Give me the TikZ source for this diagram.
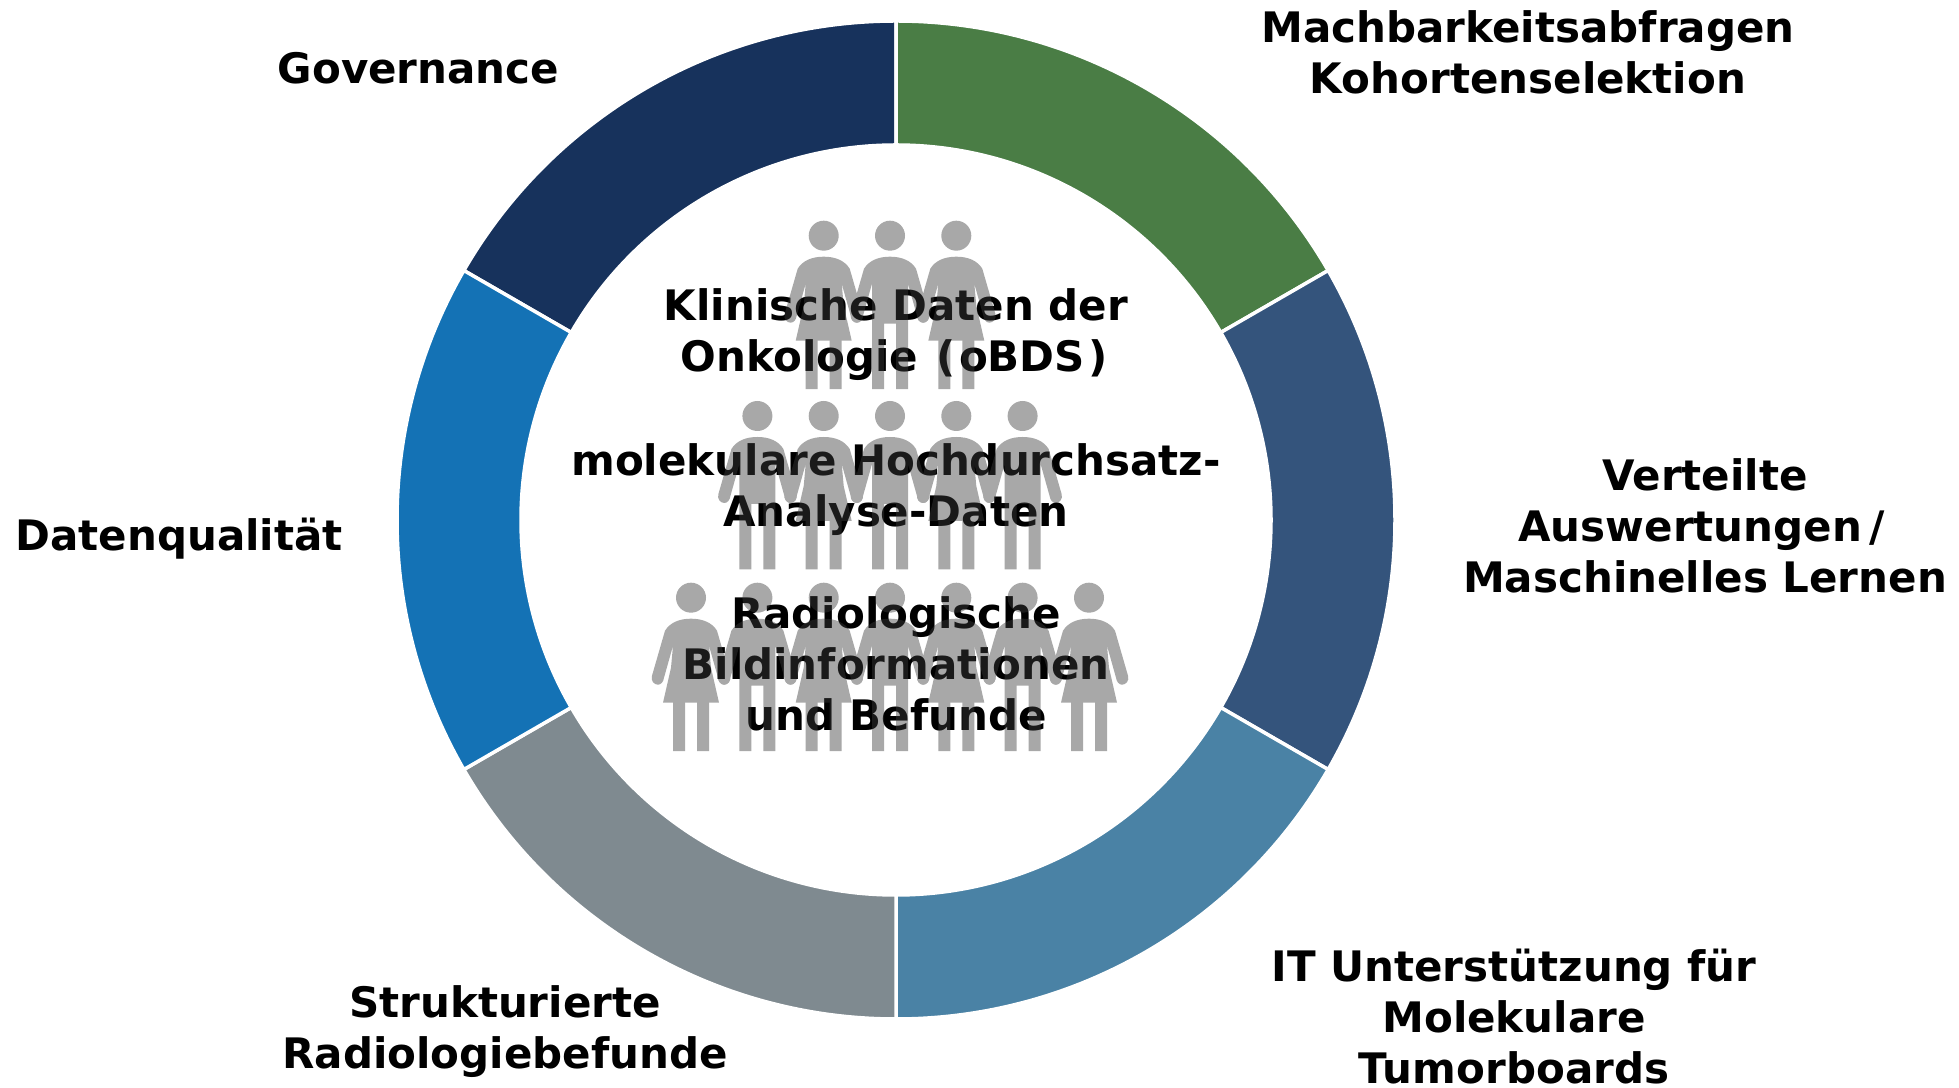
\documentclass[tikz,border=0pt]{standalone}
\usepackage{fontspec}
\setmainfont{DejaVu Sans}
\definecolor{cGov}{HTML}{17325C}
\definecolor{cMach}{HTML}{4A7D45}
\definecolor{cVert}{HTML}{34547C}
\definecolor{cIT}{HTML}{4A82A5}
\definecolor{cStruk}{HTML}{7F8A90}
\definecolor{cDaten}{HTML}{1472B5}
\definecolor{cPerson}{RGB}{59,59,59}
\newcommand{\upperbodyleft}{(0,-21) .. controls (-12,-21) and (-21,-25) .. (-26,-33)
      -- (-39,-78) .. controls (-40.5,-83) and (-37,-87) .. (-33,-87)
      .. controls (-30,-87) and (-27.5,-84) .. (-27,-80)
      -- (-18,-48)}
\newcommand{\upperbodyright}{-- (27,-80) .. controls (27.5,-84) and (30,-87) .. (33,-87)
      .. controls (37,-87) and (40.5,-83) .. (39,-78)
      -- (26,-33) .. controls (21,-25) and (12,-21) .. (0,-21) -- cycle}
\tikzset{
  x=1pt,y=1pt,
  lbl/.style={font=\fontsize{42}{51}\selectfont\bfseries,align=center,text=black,inner sep=0pt},
  slice/.style={draw=white,line width=3.5pt,line join=miter},
  pics/woman/.style={code={
    \fill[cPerson] (0,0) circle[radius=15];
    \fill[cPerson] (-18,-153.5) rectangle (-6,-100);
    \fill[cPerson] (6,-153.5) rectangle (18,-100);
    \fill[cPerson] \upperbodyleft -- (-20,-70) -- (-28,-105) -- (28,-105) -- (20,-70) -- (18,-48) \upperbodyright;
  }},
  pics/man/.style={code={
    \fill[cPerson] (0,0) circle[radius=15];
    \fill[cPerson] \upperbodyleft -- (-18,-153.5) -- (-6,-153.5) -- (-6,-88) -- (6,-88) -- (6,-153.5) -- (18,-153.5) -- (18,-48) \upperbodyright;
  }}
}
\newcommand{\ringslice}[3]{%
  \path[slice,fill=#3] ([shift={(896,567)}]#1:499) arc[start angle=#1,end angle=#2,radius=499]
    -- ([shift={(896,567)}]#2:375) arc[start angle=#2,end angle=#1,radius=375] -- cycle;}
\begin{document}
\begin{tikzpicture}
\useasboundingbox (0,0) rectangle (1959,1087);
\ringslice{90}{150}{cGov}
\ringslice{30}{90}{cMach}
\ringslice{-30}{30}{cVert}
\ringslice{-90}{-30}{cIT}
\ringslice{-150}{-90}{cStruk}
\ringslice{150}{210}{cDaten}

\node[lbl] (gov) at (418.5,1019) {Governance};
\node[lbl] (mach) at (1528,1035) {Machbarkeitsabfragen\\Kohortenselektion};
\node[lbl] (vert) at (1705,561) {Verteilte\\Auswertungen\kern7pt/\kern7pt\\Maschinelles Lernen};
\node[lbl] (dq) at (179,548.5) {Datenqualität};
\node[lbl] (it) at (1514,70) {IT Unterstützung für\\Molekulare\\Tumorboards};
\node[lbl] (struk) at (505,55.5) {Strukturierte\\Radiologiebefunde};
\node[lbl] (klin) at (896,752.5) {Klinische Daten der\\Onkologie \kern3.5pt(\kern3.5pt oBDS\kern3.5pt)\kern3.5pt};
\node[lbl] (mol) at (896,597.5) {molekulare Hochdurchsatz-\\Analyse-Daten};
\node[lbl] (rad) at (896,423) {Radiologische\\Bildinformationen\\und Befunde};

\begin{scope}[transparency group,opacity=.443]
\foreach \px/\kind in {823.7/woman,890/man,956.3/woman}
  \pic at (\px,851.3) {\kind};
\foreach \px/\kind in {757.4/man,823.7/woman,890/man,956.3/woman,1022.6/man}
  \pic at (\px,671) {\kind};
\foreach \px/\kind in {691/woman,757.4/man,823.7/woman,890/man,956.3/woman,1022.6/man,1089/woman}
  \pic at (\px,489.3) {\kind};
\end{scope}
\end{tikzpicture}
\end{document}
